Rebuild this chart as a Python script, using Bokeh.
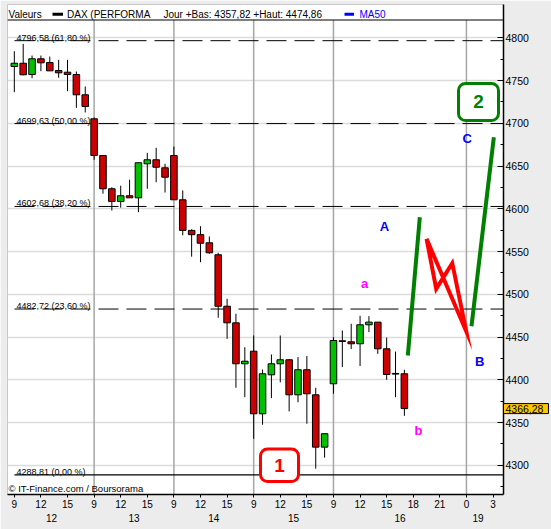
from bokeh.plotting import figure
from bokeh.models import FixedTicker, LinearAxis, Label, BoxAnnotation, Span, Range1d
from bokeh.core.properties import value
from bokeh.embed import file_html
from bokeh.resources import INLINE

# --- DAX hourly candles, one slot per trading hour (12th .. 16th) ---
opens = [4766.4, 4770.2, 4757.0, 4775.4, 4771.0, 4761.7, 4759.7, 4757.0, 4733.3,
         4705.2, 4662.3, 4623.4, 4608.5, 4615.2, 4612.8, 4652.6, 4657.3, 4647.9,
         4662.3, 4610.5, 4574.7, 4569.7, 4560.2, 4546.2, 4486.0, 4466.6, 4418.7,
         4433.4, 4360.2, 4405.8, 4418.7, 4423.4, 4382.4, 4411.7, 4382.4, 4321.2,
         4395.3, 4445.6, 4444.4, 4442.1, 4464.3, 4467.4, 4436.2, 4407.4, 4407.0]
highs = [4784.3, 4792.9, 4779.2, 4779.2, 4778.0, 4774.2, 4774.2, 4760.5, 4743.0,
         4706.7, 4662.3, 4625.2, 4627.0, 4634.0, 4653.8, 4665.4, 4671.3, 4652.6,
         4672.8, 4621.4, 4576.0, 4579.6, 4567.6, 4548.5, 4494.7, 4477.2, 4438.1,
         4451.8, 4412.0, 4429.6, 4451.8, 4424.2, 4426.6, 4427.8, 4390.6, 4336.9,
         4449.8, 4457.6, 4465.5, 4474.86, 4474.4, 4467.4, 4449.4, 4433.0, 4411.7]
lows = [4736.3, 4756.0, 4752.7, 4760.9, 4761.3, 4753.2, 4737.5, 4718.0, 4712.6,
        4657.3, 4617.6, 4598.0, 4601.3, 4612.8, 4596.0, 4623.4, 4631.0, 4619.0,
        4610.5, 4569.0, 4544.0, 4537.5, 4547.4, 4472.5, 4447.9, 4390.6, 4379.6,
        4330.9, 4347.4, 4378.5, 4397.0, 4363.0, 4373.7, 4348.6, 4296.0, 4308.9,
        4383.6, 4414.8, 4435.9, 4416.0, 4455.7, 4430.3, 4400.0, 4379.6, 4357.82]
closes = [4770.2, 4756.7, 4775.4, 4770.7, 4761.3, 4759.0, 4757.0, 4733.3, 4719.6,
          4662.3, 4623.4, 4608.5, 4615.2, 4612.8, 4653.8, 4657.3, 4648.6, 4636.9,
          4610.5, 4574.7, 4569.7, 4559.7, 4548.5, 4486.0, 4466.6, 4418.7, 4421.7,
          4360.2, 4407.0, 4418.7, 4423.4, 4382.4, 4411.7, 4383.6, 4321.2, 4336.9,
          4445.9, 4444.8, 4442.1, 4464.3, 4467.4, 4436.2, 4406.2, 4406.6, 4366.28]

# Fibonacci retracement levels and their percentages
fib_levels = [4796.58, 4699.63, 4602.68, 4482.72]
fib_pcts = [61.80, 50.00, 38.20, 23.60]
fib_base = 4288.81
fib_base_pct = 0.00

# time axis: hour ticks every 3 slots, day names underneath
hour_tick_pos = list(range(0, 55, 3))
hour_labels = ["9", "12", "15", "9", "12", "15", "9", "12", "15", "9", "12", "15",
               "9", "12", "15", "18", "21", "0", "3"]
day_label_pos = [4.2, 13.5, 22.5, 31.5, 43.5, 52.3]
day_labels = ["12", "13", "14", "15", "16", "19"]
day_starts = [9, 18, 27, 36, 51]

price_ticks = list(range(4300, 4801, 50))
price_minor = list(range(4275, 4800, 50))

# Elliott-style wave sketch drawn over the chart
wave1_x = [44.39, 45.74]
wave1_y = [4428.4, 4590.1]
corr_x = [46.50, 47.59, 49.40, 50.98, 46.50]
corr_y = [4564.9, 4506.4, 4536.3, 4456.5, 4564.9]
wave2_x = [51.57, 54.09]
wave2_y = [4462.7, 4683.7]
wave_letters = ["A", "C", "B", "a", "b"]
letter_x = [41.76, 51.09, 52.5, 39.5, 45.6]
letter_y = [4579.3, 4681.8, 4421.4, 4512.6, 4340.7]
letter_colors = ["#0000ff", "#0000ff", "#0000ff", "#ff00ff", "#ff00ff"]

FONT = "Liberation Sans"
UP, DOWN = "#00c000", "#cc0000"

X0, X1 = -0.77, 55.18
Y0, Y1 = 4265.8, 4838.9
FRAME_L, FRAME_T, FRAME_W, FRAME_H = 7, 4, 496, 490


def sx(px):
    return X0 + (px - FRAME_L) * (X1 - X0) / FRAME_W


def sy(py):
    return Y1 - (py - FRAME_T) * (Y1 - Y0) / FRAME_H


p = figure(width=551, height=529, x_range=Range1d(X0, X1), y_range=Range1d(Y0, Y1),
           y_axis_location="right", output_backend="svg", toolbar_location=None,
           title=None, min_border_left=FRAME_L, min_border_right=48,
           min_border_top=FRAME_T, min_border_bottom=35,
           background_fill_color="white", border_fill_color="#ececec",
           outline_line_color="#c8c8c8")

# grid
p.xgrid.visible = False
p.ygrid.ticker = FixedTicker(ticks=price_ticks)
p.ygrid.grid_line_color = "#dcdcdc"
p.ygrid.grid_line_width = 1.5

header_y = sy(19.5)
p.segment(x0=day_starts, y0=[Y0] * len(day_starts), x1=day_starts,
          y1=[header_y] * len(day_starts), line_color="#a6a6a6", line_width=1.5)

# Fibonacci lines + labels
fx0 = sx(14)
p.segment(x0=[fx0] * len(fib_levels), y0=fib_levels, x1=[X1] * len(fib_levels),
          y1=fib_levels, line_color="black", line_width=1, line_dash="20 8")
p.segment(x0=[fx0], y0=[fib_base], x1=[X1], y1=[fib_base], line_color="black",
          line_width=1.2)


def fmt(v):
    return f"{v:.2f}".replace(".", ",")


fib_texts = [f"{fmt(v)} ({fmt(q)} %)" for v, q in zip(fib_levels + [fib_base],
                                                     fib_pcts + [fib_base_pct])]
p.text(x=[sx(16)] * len(fib_texts), y=fib_levels + [fib_base], text=fib_texts,
       text_font=value(FONT), text_font_size="9px", text_color="black",
       text_align="left", text_baseline="alphabetic", y_offset=-3)

# candles
idx = list(range(len(opens)))
colors = [UP if c > o else DOWN for o, c in zip(opens, closes)]
tops = [max(o, c) for o, c in zip(opens, closes)]
bots = [min(o, c) for o, c in zip(opens, closes)]
p.segment(x0=idx, y0=lows, x1=idx, y1=highs, line_color="black", line_width=1)
p.vbar(x=idx, top=tops, bottom=bots, width=0.74, fill_color=colors,
       line_color="black", line_width=1)

# wave sketch
p.line(wave1_x, wave1_y, line_color="#008000", line_width=4)
p.line(corr_x, corr_y, line_color="#ff0000", line_width=4, line_join="miter")
p.line(wave2_x, wave2_y, line_color="#008000", line_width=4)
for t, x, y, c in zip(wave_letters, letter_x, letter_y, letter_colors):
    p.add_layout(Label(x=x, y=y, text=t, text_color=c, text_font=FONT,
                       text_font_size="13px", text_font_style="bold",
                       text_align="center", text_baseline="middle"))

# numbered boxes
p.add_layout(BoxAnnotation(left=sx(260), right=sx(298), top=sy(448.5), bottom=sy(481),
                           fill_color="white", fill_alpha=1, line_color="#ff0000",
                           line_alpha=1, line_width=3, border_radius=7))
p.add_layout(Label(x=sx(279), y=sy(465), text="1", text_color="#ff0000", text_font=FONT,
                   text_font_size="19px", text_font_style="bold", text_align="center",
                   text_baseline="middle"))
p.add_layout(BoxAnnotation(left=sx(458), right=sx(498), top=sy(83), bottom=sy(120),
                           fill_color="white", fill_alpha=1, line_color="#008000",
                           line_alpha=1, line_width=3, border_radius=7))
p.add_layout(Label(x=sx(478), y=sy(101), text="2", text_color="#008000", text_font=FONT,
                   text_font_size="19px", text_font_style="bold", text_align="center",
                   text_baseline="middle"))

# header strip
p.add_layout(Span(location=header_y, dimension="width", line_color="black", line_width=1.2))
hy = sy(13.5)
day_lo = min(lows[36:])
day_hi = max(highs[36:])
header_items = [("Valeurs", 8, "black"), ("DAX (PERFORMA", 66.5, "black"),
                (f"Jour +Bas: {fmt(day_lo)} +Haut: {fmt(day_hi)}", 163, "black"),
                ("MA50", 359, "#0000ff")]
for t, px, c in header_items:
    p.add_layout(Label(x=sx(px), y=hy, text=t, text_color=c, text_font=FONT,
                       text_font_size="10px", text_align="left", text_baseline="middle"))
p.quad(left=[sx(52), sx(344)], right=[sx(62.5), sx(353.5)], top=[sy(12.3)] * 2,
       bottom=[sy(15.3)] * 2, fill_color=["black", "#0000ff"], line_color=None)

p.add_layout(Label(x=sx(8), y=sy(488), text="\u00a9 IT-Finance.com / Boursorama",
                   text_color="black", text_font=FONT, text_font_size="9.5px",
                   text_align="left", text_baseline="middle"))

# price axis
ya = p.yaxis[0]
ya.ticker = FixedTicker(ticks=price_ticks, minor_ticks=price_minor)
ya.major_tick_in = 6
ya.major_tick_out = 0
ya.minor_tick_in = 3
ya.minor_tick_out = 0
ya.axis_line_width = 1.5
ya.major_label_standoff = 2
ya.major_label_text_font = FONT
ya.major_label_text_font_size = "10.5px"
ya.major_label_text_color = "black"

# time axis
xa = p.xaxis[0]
xa.ticker = FixedTicker(ticks=hour_tick_pos)
xa.major_label_overrides = {pos: lab for pos, lab in zip(hour_tick_pos, hour_labels)}
xa.major_tick_in = 0
xa.major_tick_out = 3
xa.axis_line_width = 1.5
xa.major_label_standoff = 2
xa.major_label_text_font = FONT
xa.major_label_text_font_size = "10px"
xa.major_label_text_color = "black"

# last price tag: lives in a side panel so that it is drawn outside the frame
tag = Label(x=X1, y=closes[-1], text=fmt(closes[-1]), text_font=FONT,
            text_font_size="10.5px", text_color="black", text_align="left",
            text_baseline="middle", background_fill_color="#ffc800",
            border_line_color="black", border_line_width=1,
            padding=dict(left=2, right=5, top=1, bottom=1))
p.add_layout(tag, "below")

# day names under the hour labels (stacked after the tag's panel slot)
da = LinearAxis(ticker=FixedTicker(ticks=day_label_pos),
                major_label_overrides={pos: lab for pos, lab in zip(day_label_pos, day_labels)})
da.axis_line_color = None
da.major_tick_line_color = None
da.major_tick_out = 0
da.major_label_standoff = -7
da.major_label_text_font = FONT
da.major_label_text_font_size = "10px"
da.major_label_text_color = "black"
p.add_layout(da, "below")

open("out.html", "w").write(file_html(p, INLINE))
